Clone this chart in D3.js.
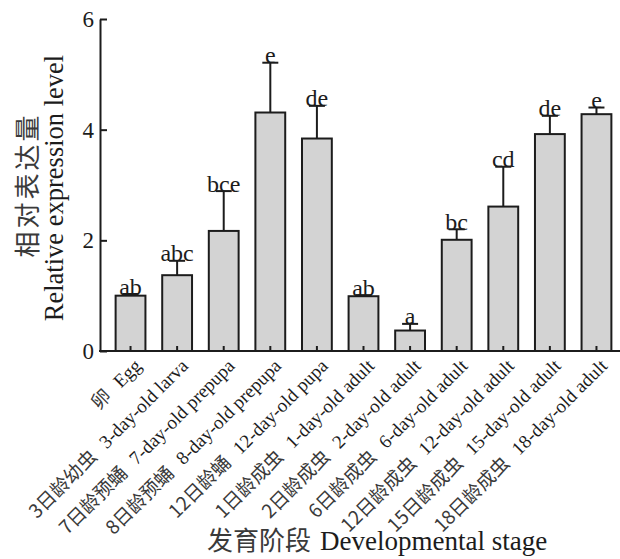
<!DOCTYPE html>
<html><head><meta charset="utf-8">
<script src="https://cdn.jsdelivr.net/npm/d3@7"></script>
<style>
html,body{margin:0;padding:0;background:#fff;}
svg{display:block;}
</style>
</head><body>
<svg id="chart" width="620" height="559"></svg>
<script>
const categoriesCN = ["卵","3日龄幼虫","7日龄预蛹","8日龄预蛹","12日龄蛹","1日龄成虫","2日龄成虫","6日龄成虫","12日龄成虫","15日龄成虫","18日龄成虫"];
const categoriesEN = ["Egg","3-day-old larva","7-day-old prepupa","8-day-old prepupa","12-day-old pupa","1-day-old adult","2-day-old adult","6-day-old adult","12-day-old adult","15-day-old adult","18-day-old adult"];
const means = [1.00,1.37,2.17,4.31,3.84,0.99,0.37,2.01,2.61,3.92,4.28];
const errors = [0.03,0.26,0.72,0.90,0.59,0.02,0.12,0.19,0.72,0.33,0.12];
const letters = ["ab","abc","bce","e","de","ab","a","bc","cd","de","e"];
const yTicks = [0,2,4,6];

const svg = d3.select("#chart");
const ink = "#1c1c1c";
const cjkInk = "#3a3a3a";
const serif = "'Liberation Serif','Times New Roman',serif";
const cjk = "'Noto Sans CJK SC',sans-serif";
const axisX0 = 100, axisX1 = 620;

const x = d3.scaleBand().domain(categoriesEN).range([107, 620]).paddingInner(0.36).paddingOuter(0.185);
const y = d3.scaleLinear().domain([0, 6]).range([351, 19]);

// bars
svg.append("g").selectAll("rect").data(means).join("rect")
  .attr("x", (d,i) => x(categoriesEN[i]))
  .attr("y", d => y(d))
  .attr("width", x.bandwidth())
  .attr("height", d => y(0) - y(d))
  .attr("fill", "#d3d3d3")
  .attr("stroke", ink).attr("stroke-width", 2);

// error bars
const eg = svg.append("g").attr("stroke", ink).attr("stroke-width", 2);
means.forEach((m, i) => {
  const cx = x(categoriesEN[i]) + x.bandwidth()/2;
  eg.append("line").attr("x1", cx).attr("x2", cx).attr("y1", y(m)).attr("y2", y(m + errors[i]));
  eg.append("line").attr("x1", cx - 8).attr("x2", cx + 8).attr("y1", y(m + errors[i])).attr("y2", y(m + errors[i]));
});

// significance letters
svg.append("g").selectAll("text").data(letters).join("text")
  .attr("x", (d,i) => x(categoriesEN[i]) + x.bandwidth()/2)
  .attr("y", (d,i) => y(means[i] + errors[i]) + 0.5)
  .attr("text-anchor", "middle")
  .attr("font-family", serif).attr("font-size", 24).attr("fill", ink)
  .text(d => d);

// y axis
const ya = svg.append("g").attr("transform", `translate(${axisX0},0)`)
  .call(d3.axisLeft(y).tickValues(yTicks).tickFormat(d3.format("d")).tickSizeInner(-7).tickSizeOuter(0).tickPadding(6));
ya.select(".domain").attr("stroke", ink).attr("stroke-width", 2);
ya.selectAll(".tick line").attr("stroke", ink).attr("stroke-width", 2);
ya.selectAll(".tick text").attr("font-family", serif).attr("font-size", 23).attr("fill", ink);

// x axis
const xa = svg.append("g").attr("transform", `translate(0,${y(0)})`)
  .call(d3.axisBottom(x).tickSizeInner(-5).tickSizeOuter(0).tickFormat(""));
xa.select(".domain").remove();
xa.selectAll(".tick line").attr("stroke", ink).attr("stroke-width", 2);
svg.append("line").attr("x1", axisX0 - 1).attr("x2", axisX1).attr("y1", y(0)).attr("y2", y(0))
  .attr("stroke", ink).attr("stroke-width", 2);

// x tick labels
const lbl = svg.append("g").selectAll("text").data(categoriesEN).join("text")
  .attr("transform", d => `translate(${x(d) + x.bandwidth()/2 + 12},${y(0) + 16}) rotate(-45)`)
  .attr("text-anchor", "end");
lbl.append("tspan").attr("font-family", cjk).attr("font-size", 19).attr("fill", cjkInk).text((d,i) => categoriesCN[i]);
lbl.append("tspan").attr("font-family", serif).attr("font-size", 19).attr("fill", ink).attr("dx", 12).text(d => d);

// x title
const xt = svg.append("text").attr("x", 207).attr("y", 550).attr("text-anchor", "start");
xt.append("tspan").attr("font-family", cjk).attr("font-size", 26).attr("fill", cjkInk).text("发育阶段");
xt.append("tspan").attr("font-family", serif).attr("font-size", 27).attr("fill", ink).attr("dx", 9).text("Developmental stage");

// y title
svg.append("text").attr("transform", "translate(37,185) rotate(-90)").attr("text-anchor", "middle")
  .attr("font-family", cjk).attr("font-size", 26).attr("letter-spacing", 3).attr("fill", cjkInk)
  .text("相对表达量");
svg.append("text").attr("transform", "translate(63,188) rotate(-90)").attr("text-anchor", "middle")
  .attr("font-family", serif).attr("font-size", 26.5).attr("fill", ink)
  .text("Relative expression level");
</script>
</body></html>
